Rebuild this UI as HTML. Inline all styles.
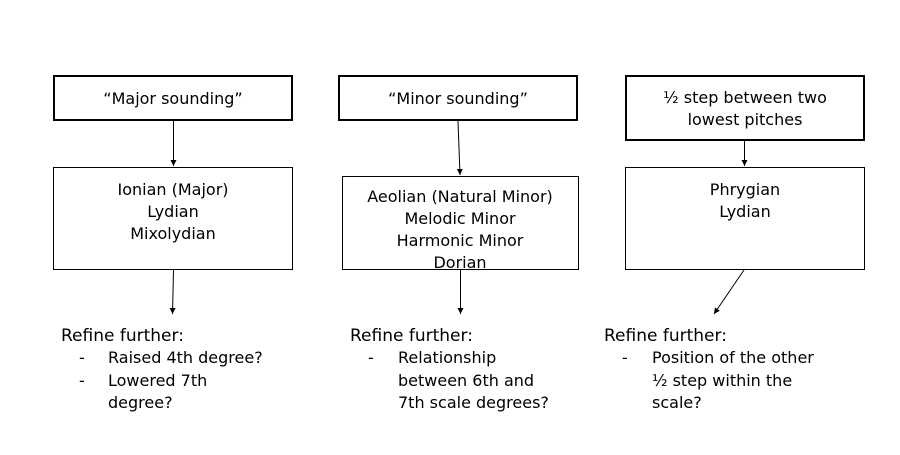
<!DOCTYPE html>
<html><head><meta charset="utf-8"><style>
html,body{margin:0;padding:0;background:#fff;width:900px;height:455px;overflow:hidden}
svg text{font-family:"DejaVu Sans","Liberation Sans",sans-serif;font-size:16px;fill:#000}
svg text.r{font-size:17px}
</style></head><body>
<svg width="900" height="455" viewBox="0 0 900 455" xmlns="http://www.w3.org/2000/svg">
<defs><marker id="a" markerWidth="8" markerHeight="8" refX="6" refY="3" orient="auto" markerUnits="userSpaceOnUse"><path d="M0,0 L6,3 L0,6 z" fill="#000"/></marker></defs>
<g fill="none" stroke="#000">
<rect x="54" y="76" width="238" height="44" stroke-width="2"/>
<rect x="339" y="76" width="238" height="44" stroke-width="2"/>
<rect x="626" y="76" width="238" height="64" stroke-width="2"/>
<rect x="53.5" y="167.5" width="239" height="102"/>
<rect x="342.5" y="176.5" width="236" height="93"/>
<rect x="625.5" y="167.5" width="239" height="102"/>
<g stroke-width="1" marker-end="url(#a)">
<line x1="173.5" y1="121" x2="173.5" y2="166"/>
<line x1="458" y1="121" x2="460" y2="175"/>
<line x1="744.5" y1="141" x2="744.5" y2="166"/>
<line x1="173.5" y1="270" x2="172.5" y2="314"/>
<line x1="460.5" y1="270" x2="460.5" y2="314"/>
<line x1="744" y1="270" x2="714" y2="314"/>
</g></g>
<g text-anchor="middle">
<text x="173" y="104">“Major sounding”</text>
<text x="458" y="104">“Minor sounding”</text>
<text x="745" y="103">½ step between two</text>
<text x="745" y="125">lowest pitches</text>
<text x="173" y="195">Ionian (Major)</text>
<text x="173" y="217">Lydian</text>
<text x="173" y="239">Mixolydian</text>
<text x="460" y="202">Aeolian (Natural Minor)</text>
<text x="460" y="224">Melodic Minor</text>
<text x="460" y="246">Harmonic Minor</text>
<text x="460" y="268">Dorian</text>
<text x="745" y="195">Phrygian</text>
<text x="745" y="217">Lydian</text>
</g>
<text class="r" x="61" y="341">Refine further:</text>
<text x="79" y="363">-</text>
<text x="108" y="363">Raised 4th degree?</text>
<text x="79" y="386">-</text>
<text x="108" y="386">Lowered 7th</text>
<text x="108" y="408">degree?</text>
<text class="r" x="350" y="341">Refine further:</text>
<text x="368" y="363">-</text>
<text x="398" y="363">Relationship</text>
<text x="398" y="386">between 6th and</text>
<text x="398" y="408">7th scale degrees?</text>
<text class="r" x="604" y="341">Refine further:</text>
<text x="622" y="363">-</text>
<text x="652" y="363">Position of the other</text>
<text x="652" y="386">½ step within the</text>
<text x="652" y="408">scale?</text>
</svg>
</body></html>
